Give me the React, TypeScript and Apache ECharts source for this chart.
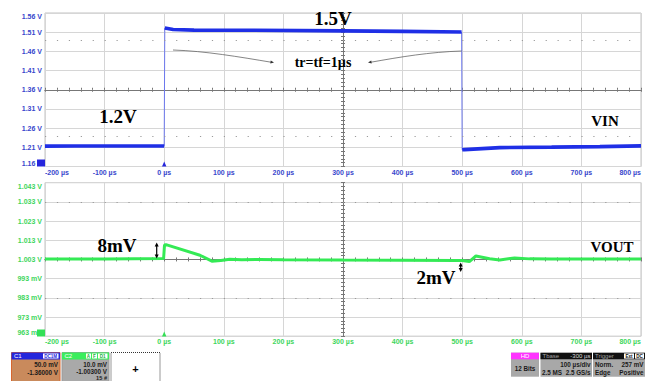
import React, { useEffect, useRef } from "react";
import * as echarts from "echarts";

// ---------- axis ticks ----------
const timeTicksUs = [-200, -100, 0, 100, 200, 300, 400, 500, 600, 700, 800];
const timeTickLabels = ["-200 µs", "-100 µs", "0 µs", "100 µs", "200 µs", "300 µs", "400 µs", "500 µs", "600 µs", "700 µs", "800 µs"];
const vinTickLabels = ["1.16 V", "1.21 V", "1.26 V", "1.31 V", "1.36 V", "1.41 V", "1.46 V", "1.51 V", "1.56 V"];
const voutTickLabels = ["963 mV", "973 mV", "983 mV", "993 mV", "1.003 V", "1.013 V", "1.023 V", "1.033 V", "1.043 V"];
const VIN_MIN = 1.16;
const VIN_DIV = 0.05;
const VOUT_MIN = 0.963;
const VOUT_DIV = 0.01;
const DIVS = 8;

// ---------- VIN (V) vs time (µs) ----------
const vinLowBeforeT = [-200, -150, -100, -50, 0];
const vinLowBeforeV = [1.2132, 1.2134, 1.2133, 1.2135, 1.2135];
const vinRiseT = [0, 1];
const vinRiseV = [1.2135, 1.521];
const vinHighT = [1, 15, 50, 150, 300, 400, 499];
const vinHighV = [1.521, 1.517, 1.5155, 1.515, 1.5135, 1.512, 1.5105];
const vinFallT = [499, 500];
const vinFallV = [1.5105, 1.2035];
const vinLowAfterT = [500, 504, 563, 650, 731, 800];
const vinLowAfterV = [1.2035, 1.204, 1.2092, 1.2105, 1.2118, 1.2138];

// ---------- VOUT (V) vs time (µs) ----------
const voutT = [-200, -100, -50, -1, 0.5, 3, 60, 80, 95, 110, 130, 160, 200, 300, 400, 490, 500, 512, 523, 546, 563, 588, 613, 650, 800];
const voutV = [1.0032, 1.0032, 1.0034, 1.0035, 1.0105, 1.0107, 1.0052, 1.0021, 1.0024, 1.0031, 1.0028, 1.003, 1.0029, 1.0027, 1.0026, 1.0025, 1.0025, 1.0019, 1.0048, 1.0034, 1.0027, 1.0038, 1.0033, 1.0032, 1.0032];

// dotted reference rows of the scope screen
const vinRefLevels = [1.485, 1.235];
const voutRefLevels = [1.028, 0.978];

const SERIF = "'Liberation Serif', 'Times New Roman', serif";
const SANS = "'Liberation Sans', Arial, sans-serif";
const GRID_C = "#d6d6d6";
const CENTER_C = "#777777";
const BLUE = "#1f2fe6";
const GREEN = "#34ea55";
const BLUE_LBL = "#3746cc";
const GREEN_LBL = "#3dd65c";

const PLOT_L = 45;
const PLOT_W = 596;
const PLOT_H = 153.5;
const TOP1 = 13;
const TOP2 = 182.7;

const pairs = (t: number[], v: number[], base: number) => t.map((x, i) => [x, v[i] - base]);

function mainX(gi: number, color: string) {
  return {
    type: "value", gridIndex: gi, min: -200, max: 800, interval: 100,
    axisLine: { show: false, onZero: false }, axisTick: { show: false },
    splitLine: { show: true, lineStyle: { color: GRID_C, width: 1 } },
    axisLabel: {
      show: true, color, fontSize: 7, fontFamily: SANS, fontWeight: "bold", margin: 2,
      alignMinLabel: "left", alignMaxLabel: "right",
      formatter: (v: number) => {
        const i = timeTicksUs.indexOf(Math.round(v));
        return i >= 0 ? timeTickLabels[i] : "";
      },
    },
  };
}
function centerX(gi: number, inside: boolean) {
  return {
    type: "value", gridIndex: gi, position: "bottom", offset: -PLOT_H / 2,
    min: -200, max: 800, interval: 20,
    axisLine: { show: true, onZero: false, lineStyle: { color: CENTER_C, width: 1 } },
    axisTick: { show: true, inside, length: 2, lineStyle: { color: CENTER_C, width: 1 } },
    axisLabel: { show: false }, splitLine: { show: false },
  };
}
function mainY(gi: number, color: string, div: number, labels: string[]) {
  return {
    type: "value", gridIndex: gi, position: "left", min: 0, max: DIVS * div, interval: div,
    axisLine: { show: false, onZero: false }, axisTick: { show: false },
    splitLine: { show: true, lineStyle: { color: GRID_C, width: 1 } },
    axisLabel: {
      show: true, color, fontSize: 7, fontFamily: SANS, fontWeight: "bold", margin: 3, lineHeight: 7,
      formatter: (v: number) => {
        const i = Math.round(v / div);
        const s = labels[i] ?? "";
        if (i === DIVS) return "\n" + s;
        if (i === 0) return s + "\n";
        return s;
      },
    },
  };
}
function centerY(gi: number, div: number, inside: boolean) {
  return {
    type: "value", gridIndex: gi, position: "left", offset: -PLOT_W / 2,
    min: 0, max: DIVS * div, interval: div / 5,
    axisLine: { show: true, onZero: false, lineStyle: { color: CENTER_C, width: 1 } },
    axisTick: { show: true, inside, length: 2, lineStyle: { color: CENTER_C, width: 1 } },
    axisLabel: { show: false }, splitLine: { show: false },
  };
}

function txt(x: number, y: number, text: string, size: number, o: any = {}) {
  return {
    type: "text", x, y, z: o.z ?? 100, silent: true,
    style: {
      text, fontSize: size, fontFamily: o.family ?? SERIF, fontWeight: o.weight ?? "bold",
      fill: o.fill ?? "#000", align: o.align ?? "center", verticalAlign: o.va ?? "middle",
    },
  };
}
function box(x: number, y: number, w: number, h: number, fill: string, stroke?: string, dash?: number[]) {
  return {
    type: "rect", z: 90, silent: true, shape: { x, y, width: w, height: h },
    style: { fill, stroke: stroke ?? null, lineWidth: stroke ? 1 : 0, lineDash: dash ?? null },
  };
}
function head(tx: number, ty: number, dx: number, dy: number, len: number, half: number, fill: string) {
  const n = Math.hypot(dx, dy);
  const ux = dx / n, uy = dy / n;
  const bx = tx - ux * len, by = ty - uy * len;
  return {
    type: "polygon", z: 100, silent: true,
    shape: { points: [[tx, ty], [bx - uy * half, by + ux * half], [bx + uy * half, by - ux * half]] },
    style: { fill },
  };
}
function dblArrow(x: number, y1: number, y2: number) {
  return [
    { type: "line", z: 100, silent: true, shape: { x1: x, y1: y1 + 2, x2: x, y2: y2 - 2 }, style: { stroke: "#000", lineWidth: 1.2 } },
    head(x, y1, 0, -1, 4, 2, "#000"),
    head(x, y2, 0, 1, 4, 2, "#000"),
  ];
}

function buildGraphic() {
  const g: any[] = [];
  // annotations
  g.push(txt(333, 18, "1.5V", 19));
  g.push(txt(323, 62, "tr=tf=1µs", 14));
  g.push(txt(118, 116.5, "1.2V", 19));
  g.push(txt(605, 121, "VIN", 15));
  g.push(txt(117, 245, "8mV", 19));
  g.push(txt(612, 247, "VOUT", 15));
  g.push(txt(436, 277, "2mV", 19));
  g.push(...dblArrow(156.7, 242.5, 258.5));
  g.push(...dblArrow(460.7, 262.5, 272));
  g.push({ type: "bezierCurve", z: 100, silent: true, shape: { x1: 173, y1: 50, x2: 271, y2: 62.2, cpx1: 205, cpy1: 51, cpx2: 240, cpy2: 57 }, style: { stroke: "#666", lineWidth: 0.8, fill: null } });
  g.push(head(274, 62.6, 1, 0.15, 3.5, 1.5, "#333"));
  g.push({ type: "bezierCurve", z: 100, silent: true, shape: { x1: 461.7, y1: 51, x2: 371, y2: 62.2, cpx1: 430, cpy1: 52, cpx2: 400, cpy2: 57 }, style: { stroke: "#666", lineWidth: 0.8, fill: null } });
  g.push(head(368, 62.6, -1, 0.15, 3.5, 1.5, "#333"));

  // channel markers
  g.push(box(37, 159.5, 8, 7, "#2626dc"));
  g.push({ type: "polygon", z: 95, silent: true, shape: { points: [[164.2, 161.5], [162, 166.5], [166.4, 166.5]] }, style: { fill: "#2626dc" } });
  g.push(box(37, 329.5, 8, 7, "#33e055"));
  g.push({ type: "polygon", z: 95, silent: true, shape: { points: [[164.2, 331.5], [162, 336.5], [166.4, 336.5]] }, style: { fill: "#33e055" } });

  const s = (x: number, y: number, t: string, align: string, o: any = {}) =>
    txt(x, y, t, o.size ?? 6.3, { family: SANS, weight: o.weight ?? "bold", fill: o.fill ?? "#1a1a1a", align, z: 100 });

  // C1
  g.push(box(11.5, 352.5, 48.5, 30, "#c98a5c", "#d8662e"));
  g.push(box(11.5, 352.5, 48.5, 7, "#2626dc"));
  g.push(s(14, 356, "C1", "left", { fill: "#ffffff", weight: "normal", size: 6 }));
  g.push(box(43, 353.5, 15.5, 5, "#ffffff"));
  g.push(s(50.7, 356.1, "DC1M", "center", { fill: "#2626dc", size: 4.6 }));
  g.push(s(58, 364.5, "50.0 mV", "right"));
  g.push(s(58, 372.7, "-1.36000 V", "right"));
  // C2
  g.push(box(62, 352.5, 47, 30, "#a9a9a9", "#9a9a9a"));
  g.push(box(62, 352.5, 47, 7, "#3aee5c"));
  g.push(s(64.5, 356, "C2", "left", { fill: "#ffffff", weight: "normal", size: 6 }));
  g.push(box(86, 353.5, 5, 5, "#ffffff"));
  g.push(s(88.5, 356.1, "A", "center", { fill: "#22aa44", size: 4.6 }));
  g.push(box(92, 353.5, 5, 5, "#ffffff"));
  g.push(s(94.5, 356.1, "F", "center", { fill: "#22aa44", size: 4.6 }));
  g.push(box(98, 353.5, 9.5, 5, "#ffffff"));
  g.push(s(102.7, 356.1, "D1", "center", { fill: "#22aa44", size: 4.6 }));
  g.push(s(107, 364.3, "10.0 mV", "right"));
  g.push(s(107, 371.8, "-1.00300 V", "right"));
  g.push(s(107, 378, "15 #", "right", { size: 5.6 }));
  // empty slot
  g.push(box(111, 352.5, 49, 30, "#ffffff", "#333333", [1, 1]));
  g.push(txt(135.5, 368.5, "+", 11, { family: SANS, weight: "bold", z: 100 }));
  // HD
  g.push(box(511, 352.7, 28, 24, "#a8a8a8"));
  g.push(box(511, 352.7, 28, 6.6, "#ff33ff"));
  g.push(s(525, 356, "HD", "center", { fill: "#ffffff", weight: "normal", size: 6 }));
  g.push(s(525, 368.3, "12 Bits", "center"));
  // Tbase
  g.push(box(540.5, 352.7, 51.5, 24, "#a8a8a8"));
  g.push(box(540.5, 352.7, 51.5, 6.6, "#111111"));
  g.push(s(542.5, 356, "Tbase", "left", { fill: "#a0a0a0", weight: "normal", size: 6 }));
  g.push(s(590.5, 356, "-300 µs", "right", { fill: "#d8d8d8", weight: "normal", size: 6 }));
  g.push(s(590.5, 364.3, "100 µs/div", "right"));
  g.push(s(542, 372.7, "2.5 MS", "left"));
  g.push(s(590.5, 372.7, "2.5 GS/s", "right"));
  // Trigger
  g.push(box(593, 352.7, 52, 24, "#a8a8a8"));
  g.push(box(593, 352.7, 52, 6.6, "#111111"));
  g.push(s(595, 356, "Trigger", "left", { fill: "#a0a0a0", weight: "normal", size: 6 }));
  g.push(box(624, 353.4, 10, 5.2, "#ffffff"));
  g.push(s(629, 356.1, "Ext", "center", { fill: "#111", size: 4.6 }));
  g.push(box(635, 353.4, 9, 5.2, "#ffffff"));
  g.push(s(639.5, 356.1, "DC", "center", { fill: "#111", size: 4.6 }));
  g.push(s(595, 364.3, "Norm.", "left"));
  g.push(s(643.5, 364.3, "257 mV", "right"));
  g.push(s(595, 372.7, "Edge", "left"));
  g.push(s(643.5, 372.7, "Positive", "right"));
  return g;
}

function buildOption() {
  const dotted = (levels: number[], base: number) => ({
    silent: true, symbol: ["none", "none"], label: { show: false },
    lineStyle: { type: [1.2, 10.72], color: "#9a9a9a", width: 1 },
    emphasis: { disabled: true },
    data: levels.map((l) => ({ yAxis: l - base })),
  });
  const thick = (name: string, data: any, color: string, width: number, xi: number, yi: number, extra: any = {}) => ({
    name, type: "line", xAxisIndex: xi, yAxisIndex: yi, data, symbol: "none", showSymbol: false,
    lineStyle: { color, width }, itemStyle: { color }, z: 5, silent: true, ...extra,
  });
  return {
    animation: false,
    backgroundColor: "#ffffff",
    grid: [
      { left: PLOT_L, top: TOP1, width: PLOT_W, height: PLOT_H, show: true, borderColor: "#c2c2c2", borderWidth: 1, backgroundColor: "#ffffff" },
      { left: PLOT_L, top: TOP2, width: PLOT_W, height: PLOT_H, show: true, borderColor: "#c2c2c2", borderWidth: 1, backgroundColor: "#ffffff" },
    ],
    xAxis: [mainX(0, BLUE_LBL), mainX(1, GREEN_LBL), centerX(0, false), centerX(0, true), centerX(1, false), centerX(1, true)],
    yAxis: [
      mainY(0, BLUE_LBL, VIN_DIV, vinTickLabels),
      mainY(1, GREEN_LBL, VOUT_DIV, voutTickLabels),
      centerY(0, VIN_DIV, false), centerY(0, VIN_DIV, true),
      centerY(1, VOUT_DIV, false), centerY(1, VOUT_DIV, true),
    ],
    series: [
      thick("VIN low", pairs(vinLowBeforeT, vinLowBeforeV, VIN_MIN), BLUE, 3.6, 0, 0, { markLine: dotted(vinRefLevels, VIN_MIN) }),
      thick("VIN rise", pairs(vinRiseT, vinRiseV, VIN_MIN), "#6c78ee", 1, 0, 0, { z: 4 }),
      thick("VIN high", pairs(vinHighT, vinHighV, VIN_MIN), BLUE, 3.6, 0, 0),
      thick("VIN fall", pairs(vinFallT, vinFallV, VIN_MIN), "#6c78ee", 1, 0, 0, { z: 4 }),
      thick("VIN low2", pairs(vinLowAfterT, vinLowAfterV, VIN_MIN), BLUE, 3.6, 0, 0),
      thick("VOUT", pairs(voutT, voutV, VOUT_MIN), GREEN, 3, 1, 1, { markLine: dotted(voutRefLevels, VOUT_MIN) }),
    ],
    graphic: { elements: buildGraphic() },
  };
}

export default function App() {
  const ref = useRef<HTMLDivElement>(null);
  useEffect(() => {
    document.body.style.margin = "0";
    if (!ref.current) return;
    const chart = echarts.init(ref.current, null, { renderer: "svg" });
    chart.setOption(buildOption() as any);
    return () => chart.dispose();
  }, []);
  return <div ref={ref} style={{ width: 648, height: 381, background: "#fff" }} />;
}
